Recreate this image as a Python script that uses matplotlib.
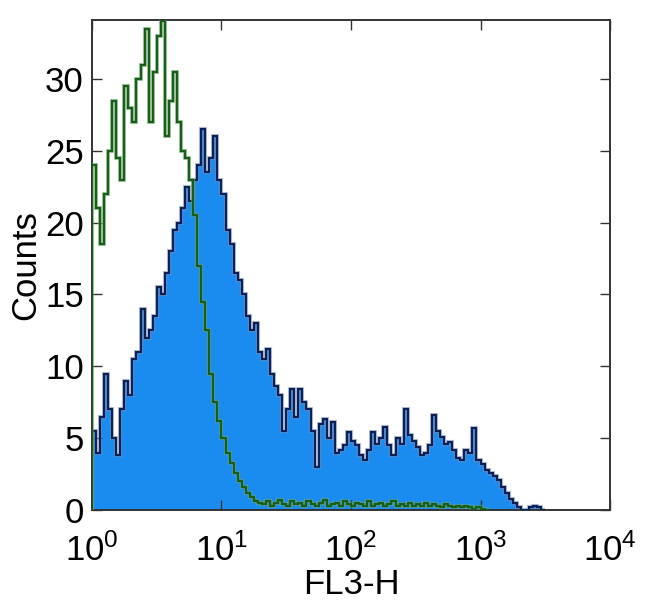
import numpy as np
import matplotlib
matplotlib.use("Agg")
import matplotlib.pyplot as plt

# ---------------- data ----------------
bins_per_decade = 32  # histogram channels per decade of FL3-H

stained_counts = [
    5.5, 4.0, 6.5, 9.5, 7.0, 5.0, 3.8, 7.0, 9.0, 8.0,
    10.5, 11.0, 14.0, 12.0, 12.5, 13.5, 15.5, 15.0, 16.5, 18.0,
    19.5, 20.0, 21.0, 22.5, 21.5, 23.0, 24.0, 26.5, 23.5, 24.5,
    26.0, 23.0, 22.0, 19.5, 18.5, 16.5, 16.0, 15.0, 13.5, 12.5,
    13.0, 11.0, 10.5, 11.2, 9.5, 8.6, 8.0, 5.5, 7.0, 8.4,
    6.5, 8.4, 7.5, 7.0, 5.5, 3.0, 6.0, 6.3, 5.0, 6.1,
    4.0, 4.2, 4.5, 5.4, 4.8, 4.5, 3.8, 3.5, 4.2, 5.4,
    4.6, 5.0, 5.8, 4.5, 3.8, 5.0, 4.6, 7.0, 5.2, 4.8,
    4.4, 3.8, 4.0, 4.5, 6.6, 5.5, 5.1, 4.6, 4.7, 4.2,
    3.6, 3.5, 4.2, 4.0, 5.7, 3.5, 3.2, 2.8, 2.6, 2.4,
    2.1, 1.6, 1.2, 0.8, 0.5, 0.2, 0.0, 0.0, 0.2, 0.3,
    0.2, 0.0,
]

control_counts = [
    24.0, 21.0, 18.5, 22.0, 25.0, 28.5, 24.5, 23.0, 29.5, 28.0,
    27.0, 30.0, 31.0, 33.5, 27.0, 30.5, 33.0, 34.0, 26.0, 28.5,
    30.5, 27.0, 25.0, 24.5, 23.0, 20.5, 17.0, 14.5, 12.5, 9.5,
    7.5, 6.2, 5.0, 4.0, 3.3, 2.6, 2.0, 1.6, 1.2, 0.9,
    0.6, 0.5, 0.4, 0.6, 0.3, 0.5, 0.7, 0.4, 0.3, 0.6,
    0.4, 0.5, 0.3, 0.6, 0.4, 0.3, 0.5, 0.7, 0.3, 0.4,
    0.5, 0.3, 0.6, 0.4, 0.3, 0.5, 0.4, 0.3, 0.6, 0.3,
    0.4, 0.5, 0.3, 0.4, 0.6, 0.3, 0.4, 0.3, 0.5, 0.3,
    0.4, 0.3, 0.5, 0.3, 0.4, 0.3, 0.2, 0.4, 0.3, 0.2,
    0.3, 0.2, 0.3, 0.2, 0.1, 0.2, 0.1, 0.0,
]

x_ticks = [1, 10, 100, 1000, 10000]
x_tick_labels = [r"$10^{0}$", r"$10^{1}$", r"$10^{2}$", r"$10^{3}$", r"$10^{4}$"]
y_ticks = [0, 5, 10, 15, 20, 25, 30]
x_label = "FL3-H"
y_label = "Counts"

# ---------------- style ----------------
plt.rcParams["font.family"] = ["Liberation Sans", "DejaVu Sans"]
plt.rcParams["mathtext.fontset"] = "custom"
plt.rcParams["mathtext.rm"] = "Liberation Sans"
plt.rcParams["mathtext.it"] = "Liberation Sans"
plt.rcParams["mathtext.bf"] = "Liberation Sans:bold"

fig = plt.figure(figsize=(6.5, 6.15), dpi=100)
ax = fig.add_axes([0.1415, 0.1707, 0.797, 0.7967])

stained = np.array(stained_counts)
control = np.array(control_counts)
edges_s = 10 ** (np.arange(len(stained) + 1) / bins_per_decade)
edges_c = 10 ** (np.arange(len(control) + 1) / bins_per_decade)

ax.stairs(stained, edges_s, fill=True, color="#1a8cf0", zorder=1)
ax.stairs(stained, edges_s, color="#8a9bb8", lw=3.0, alpha=0.55, zorder=2)
ax.stairs(stained, edges_s, color="#0b1f58", lw=1.6, zorder=3)
ax.stairs(control, edges_c, color="#7fb27f", lw=3.0, alpha=0.55, zorder=4)
ax.stairs(control, edges_c, color="#175e17", lw=1.7, zorder=5)

ax.set_xscale("log")
ax.set_xlim(1, 10000)
ax.set_ylim(0, 34.1)
ax.set_xticks(x_ticks)
ax.set_xticklabels(x_tick_labels)
ax.xaxis.set_minor_locator(matplotlib.ticker.NullLocator())
ax.set_yticks(y_ticks)

ax.tick_params(axis="both", which="major", direction="in", length=7, width=1.0,
               top=True, right=True, labelsize=25, color="#333333")
ax.tick_params(axis="x", pad=17)
ax.tick_params(axis="y", pad=6)
for sp in ax.spines.values():
    sp.set_linewidth(1.4)
    sp.set_color("#333333")

ax.set_xlabel(x_label, fontsize=25, labelpad=0)
ax.set_ylabel(y_label, fontsize=25, labelpad=2)

fig.savefig("out.png", dpi=100)
